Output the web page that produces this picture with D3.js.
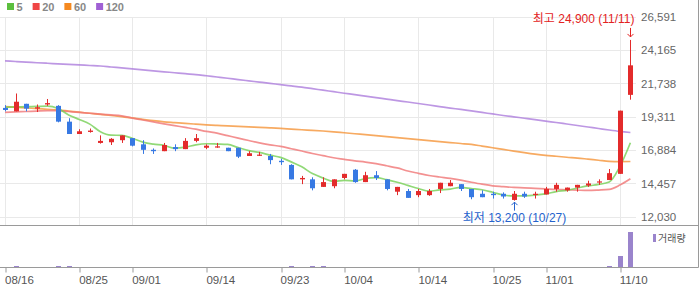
<!DOCTYPE html>
<html>
<head>
<meta charset="utf-8">
<script src="https://cdn.jsdelivr.net/npm/d3@7"></script>
<style>
  body { margin:0; background:#fff; }
  svg { display:block; font-family:"Liberation Sans", Arial, "Noto Sans CJK KR", sans-serif; }
</style>
</head>
<body>
<svg width="700" height="289"></svg>
<script>
// ---------- data ----------
const dates = ["08/16","08/17","08/18","08/19","08/22","08/23","08/24","08/25","08/26","08/29",
  "08/30","08/31","09/01","09/02","09/05","09/06","09/07","09/08","09/13","09/14",
  "09/15","09/16","09/19","09/20","09/21","09/22","09/23","09/26","09/27","09/28",
  "09/29","09/30","10/04","10/05","10/06","10/07","10/11","10/12","10/13","10/14",
  "10/17","10/18","10/19","10/20","10/21","10/24","10/25","10/26","10/27","10/28",
  "10/31","11/01","11/02","11/03","11/04","11/07","11/08","11/09","11/10","11/11"];

const openP = [19950,19700,20250,19900,20200,20100,18950,18050,18200,17400,
  17450,17600,17750,17300,16900,16800,17100,16950,17550,17050,
  17100,17050,17050,16450,16500,16450,16100,15800,14750,14750,
  14200,14250,14850,15450,14550,15050,14750,13850,13900,13600,
  13600,14050,14250,14400,14050,13700,13700,13700,13250,13700,
  13650,13650,14050,13950,14150,14300,14550,14700,15150,20900];
const highP = [20150,21000,20250,20200,20600,20150,19200,18400,18450,17950,
  17750,17950,17750,17600,17000,17400,17300,17750,18050,17300,
  17400,17050,17050,16800,16750,16600,16250,15850,15000,14900,
  14900,14750,15150,15500,15300,15350,14750,14200,14050,14050,
  14050,14500,14700,14400,14050,13950,13850,13800,13900,13850,
  13850,14200,14500,14150,14350,14650,14750,15500,19750,24900];
const lowP = [19700,19700,19700,19650,20100,18900,18050,18050,18150,17350,
  17250,17400,17150,16600,16600,16800,16800,16950,17450,16950,
  17050,16800,16300,16450,16450,15850,15800,14750,14400,13950,
  14200,14100,14750,14500,14550,14700,13950,13600,13400,13450,
  13550,13750,14250,13900,13300,13450,13350,13350,13200,13400,
  13350,13650,13850,13850,13850,14200,14350,14700,15150,20550];
const closeP = [19800,20400,19900,20000,20300,18950,18050,18250,18300,17550,
  17700,17950,17200,16900,16800,17250,16950,17550,17750,17200,
  17150,16800,16400,16650,16550,16150,16000,14750,14850,14100,
  14550,14750,15150,14550,15050,14850,14050,14200,13400,13900,
  13900,14500,14500,14050,13450,13450,13600,13500,13700,13500,
  13700,14050,14350,14150,14350,14450,14600,15200,19750,23050];

const ma5 = [20000,20020,20040,20060,20080,19910,19440,19110,18770,18220,
  17970,17950,17740,17460,17310,17220,17020,17090,17260,17340,
  17320,17290,17060,16840,16710,16510,16350,16020,15660,15170,
  14850,14600,14680,14620,14810,14870,14730,14540,14310,14080,
  13890,13980,14040,14170,14080,13990,13810,13610,13540,13550,
  13600,13690,13860,13950,14120,14270,14380,14550,15670,17410];
const ma20 = [19630,19660,19690,19720,19745,19760,19690,19620,19560,19500,
  19440,19370,19210,19070,18930,18790,18660,18530,18400,18240,
  18110,17930,17750,17580,17400,17260,17150,16980,16810,16630,
  16480,16320,16210,16100,16010,15890,15740,15580,15360,15190,
  15030,14920,14820,14690,14540,14400,14280,14220,14160,14130,
  14090,14050,14010,13990,13960,13940,13970,14020,14330,14790];
const ma60 = [20050,20000,19950,19900,19850,19800,19720,19640,19560,19480,
  19400,19310,19220,19120,19020,18940,18880,18820,18770,18720,
  18680,18640,18610,18570,18540,18500,18460,18410,18360,18320,
  18270,18210,18140,18070,18000,17930,17860,17790,17720,17640,
  17570,17500,17430,17360,17290,17170,17050,16930,16810,16690,
  16580,16490,16430,16360,16300,16220,16140,16060,16040,16050];
const ma120 = [23370,23330,23290,23240,23200,23160,23120,23080,23040,23000,
  22930,22860,22790,22720,22650,22580,22510,22440,22380,22290,
  22200,22110,22010,21920,21830,21740,21640,21550,21460,21350,
  21240,21130,21020,20920,20810,20700,20590,20480,20380,20270,
  20160,20050,19940,19840,19730,19620,19510,19400,19300,19200,
  19100,18990,18890,18780,18670,18560,18450,18340,18240,18160];

const volume = [40000,110000,30000,25000,30000,110000,120000,30000,20000,25000,
  20000,25000,20000,30000,20000,25000,20000,30000,25000,20000,
  20000,25000,30000,20000,25000,30000,40000,110000,30000,110000,
  110000,30000,25000,30000,25000,20000,30000,25000,35000,25000,
  20000,25000,30000,20000,35000,25000,20000,25000,40000,25000,
  20000,30000,35000,25000,30000,40000,45000,150000,1200000,3600000];

const priceTicks = [12030,14457,16884,19311,21738,24165,26591];
const dateTicks = ["08/16","08/25","09/01","09/14","09/23","10/04","10/14","10/25","11/01","11/10"];
const maNames = ["5","20","60","120"];
const maColors = ["#5cbf3e","#ef4545","#f5891f","#a060d4"];
const maLineColors = ["#76cf55","#f07676","#f5953a","#ad7ddc"];
const maSeries = [ma5, ma20, ma60, ma120];

const hiIdx = 59, loIdx = 48;

// ---------- layout ----------
const svg = d3.select("svg");
const plotR = 636, frameR = 698.5, sepY = 225.5, volBase = 267.5, volTop = 232;
const UP = "#e32b2b", DOWN = "#3779e3";

const x = d3.scalePoint().domain(dates).range([5, 630.4]);
const y = d3.scaleLinear().domain([12030, 26591]).range([216.7, 16.7]);
const yv = d3.scaleLinear().domain([0, d3.max(volume)]).range([volBase, volTop]);
const px = d => Math.round(x(d)) + 0.5;

// grid
const grid = svg.append("g");
grid.selectAll(".hg").data(priceTicks).join("line")
  .attr("x1", 0).attr("x2", plotR)
  .attr("y1", d => Math.round(y(d)) + 0.5).attr("y2", d => Math.round(y(d)) + 0.5)
  .attr("stroke", "#e9e9e9");
grid.selectAll(".vg").data(dateTicks).join("line")
  .attr("x1", px).attr("x2", px)
  .attr("y1", Math.round(y(26591)) + 0.5).attr("y2", sepY)
  .attr("stroke", "#e9e9e9");

// right price axis
const yAxis = svg.append("g").attr("transform", `translate(${plotR+4},0)`)
  .call(d3.axisRight(y).tickValues(priceTicks).tickFormat(d3.format(",")).tickSize(0).tickPadding(1));
yAxis.select(".domain").remove();
yAxis.selectAll("text").attr("fill", "#666").attr("font-size", 11.5)
  .attr("font-family", "Liberation Sans, Arial, sans-serif");

// moving averages
const line = d3.line().x((v, i) => x(dates[i])).y(v => y(v)).curve(d3.curveMonotoneX);
[3, 2, 1, 0].forEach(k => {
  svg.append("path").attr("d", line(maSeries[k])).attr("fill", "none")
    .attr("stroke", maLineColors[k]).attr("stroke-width", 1.7).attr("stroke-opacity", 0.8);
});

// candles
const candles = svg.append("g").selectAll("g").data(dates).join("g");
candles.append("line")
  .attr("x1", px).attr("x2", px)
  .attr("y1", (d, i) => y(highP[i])).attr("y2", (d, i) => y(lowP[i]))
  .attr("stroke", (d, i) => closeP[i] >= openP[i] ? UP : DOWN).attr("stroke-width", 1);
candles.append("rect")
  .attr("x", d => Math.round(x(d)) - 2).attr("width", 5)
  .attr("y", (d, i) => y(Math.max(openP[i], closeP[i])))
  .attr("height", (d, i) => Math.max(1.2, Math.abs(y(openP[i]) - y(closeP[i]))))
  .attr("fill", (d, i) => closeP[i] >= openP[i] ? UP : DOWN);

// annotations
const fmt = d3.format(",");
const hx = px(dates[hiIdx]), hy = y(highP[hiIdx]);
svg.append("path").attr("d", `M${hx},${hy-12}V${hy-3}M${hx-3},${hy-6}L${hx},${hy-3}L${hx+3},${hy-6}`)
  .attr("fill", "none").attr("stroke", "#e32222").attr("stroke-width", 1);
svg.append("text").attr("x", hx + 4).attr("y", hy - 17).attr("text-anchor", "end")
  .attr("fill", "#e32222").attr("font-size", 12)
  .text(`최고 ${fmt(highP[hiIdx])} (${dates[hiIdx]})`);

const lx = px(dates[loIdx]), ly = y(lowP[loIdx]);
svg.append("path").attr("d", `M${lx},${ly+10}V${ly+1.5}M${lx-3},${ly+4.5}L${lx},${ly+1.5}L${lx+3},${ly+4.5}`)
  .attr("fill", "none").attr("stroke", "#2462cc").attr("stroke-width", 1);
svg.append("text").attr("x", lx).attr("y", ly + 21).attr("text-anchor", "middle")
  .attr("fill", "#2462cc").attr("font-size", 12)
  .text(`최저 ${fmt(lowP[loIdx])} (${dates[loIdx]})`);

// legend
const lg = svg.append("g");
let lxPos = 7;
maNames.forEach((n, k) => {
  lg.append("rect").attr("x", lxPos).attr("y", 3).attr("width", 7).attr("height", 7).attr("fill", maColors[k]);
  const t = lg.append("text").attr("x", lxPos + 9.5).attr("y", 11).attr("fill", "#888")
    .attr("font-size", 11).attr("font-weight", "bold").text(n);
  lxPos += 9.5 + t.node().getComputedTextLength() + 10;
});

// frame
svg.append("line").attr("x1", 0).attr("x2", frameR).attr("y1", sepY).attr("y2", sepY).attr("stroke", "#9a9a9a");
svg.append("line").attr("x1", frameR).attr("x2", frameR).attr("y1", 0).attr("y2", volBase).attr("stroke", "#9a9a9a");

// volume
svg.append("g").selectAll("rect").data(dates).join("rect")
  .attr("x", d => Math.round(x(d)) - 2).attr("width", 5)
  .attr("y", (d, i) => yv(volume[i])).attr("height", (d, i) => volBase - yv(volume[i]))
  .attr("fill", "#9a84cc").attr("shape-rendering", "crispEdges");
svg.append("rect").attr("x", 653).attr("y", 234).attr("width", 3).attr("height", 8).attr("fill", "#9a84cc");
svg.append("text").attr("x", 658).attr("y", 241.5).attr("fill", "#555").attr("font-size", 10)
  .attr("font-family", "Noto Sans CJK KR, sans-serif").text("거래량");

// date axis
const xAxis = svg.append("g").attr("transform", `translate(0,${volBase})`)
  .call(d3.axisBottom(x).tickValues(dateTicks).tickSize(5).tickPadding(3));
xAxis.select(".domain").remove();
xAxis.selectAll("line").attr("stroke", "#999").attr("transform", d => `translate(${px(d) - x(d)},0)`);
xAxis.selectAll("text").attr("text-anchor", "start").attr("dx", -0.5)
  .attr("fill", "#555").attr("font-size", 11.5).attr("font-family", "Liberation Sans, Arial, sans-serif");
svg.append("line").attr("x1", 0).attr("x2", frameR).attr("y1", volBase).attr("y2", volBase).attr("stroke", "#9a9a9a");
</script>
</body>
</html>
